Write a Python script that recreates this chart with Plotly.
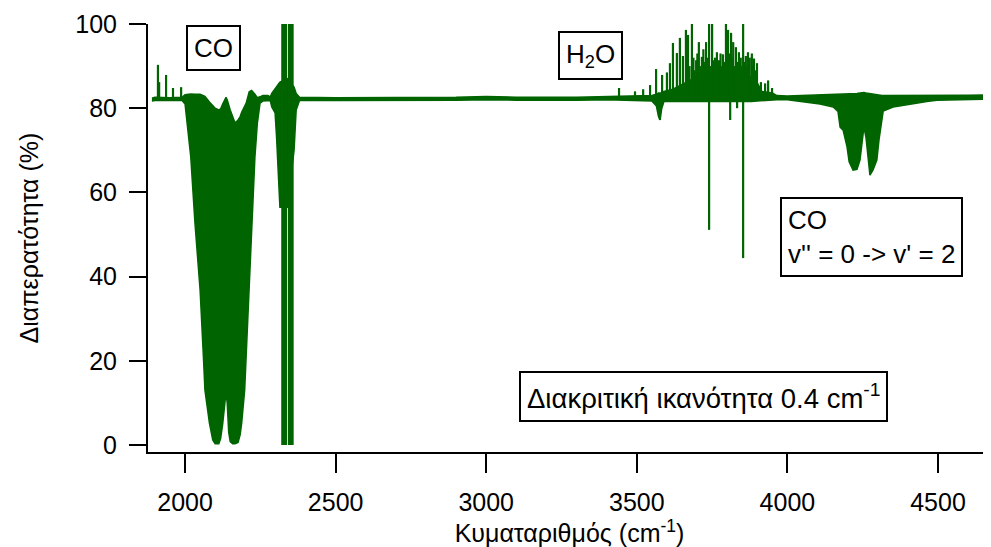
import plotly.graph_objects as go

wn = [1890, 1900, 1950, 1990, 2000, 2019, 2033, 2050, 2061, 2066, 2081, 2092, 2100, 2112,
      2118, 2125, 2133, 2136, 2140, 2145, 2150, 2158, 2166, 2176, 2183, 2188, 2198, 2203,
      2213, 2221, 2232, 2240, 2249, 2258, 2275, 2283, 2288, 2299, 2304, 2310, 2315, 2340,
      2362, 2369, 2380, 2500, 2700, 2900, 3000, 3100, 3300, 3400, 3550, 3565, 3572, 3577,
      3583, 3590, 3620, 3660, 3700, 3800, 3880, 3900, 3915, 3950, 3965, 4000, 4042, 4108,
      4152, 4168, 4175, 4185, 4198, 4205, 4218, 4231, 4241, 4251, 4254, 4261, 4268, 4274,
      4284, 4297, 4304, 4314, 4318, 4351, 4407, 4463, 4496, 4600, 4680]
t_upper = [82.4, 82.6, 82.5, 82.6, 83.2, 83.4, 83.3, 83.3, 83.0, 82.8, 81.5, 80.5, 80.0, 79.6,
           79.8, 81.0, 82.4, 82.6, 82.0, 80.5, 79.6, 78.0, 76.5, 77.2, 78.0, 79.0, 80.5, 81.2,
           83.9, 84.2, 83.3, 82.5, 82.7, 83.0, 83.0, 82.7, 83.5, 84.5, 85.0, 85.5, 86.2, 87.0,
           85.0, 83.5, 82.6, 82.5, 82.5, 82.6, 82.8, 82.6, 82.6, 82.7, 83.0, 83.3, 83.6, 83.6,
           83.6, 84.0, 84.5, 86.0, 87.5, 88.0, 87.5, 86.0, 84.0, 83.6, 83.0, 82.9, 83.0, 83.1,
           83.2, 83.2, 83.3, 83.3, 83.4, 83.4, 83.4, 83.5, 83.6, 83.7, 83.7, 83.6, 83.5, 83.4,
           83.3, 83.2, 83.1, 83.0, 83.0, 83.0, 83.0, 83.0, 83.1, 83.1, 83.2]
t_lower = [81.7, 81.8, 81.8, 81.8, 81.0, 68.4, 52.7, 36.8, 20.9, 13.1, 5.2, 1.2, 0.3, 0.3,
           1.5, 5.0, 10.5, 12.4, 10.0, 3.0, 0.8, 0.3, 0.3, 0.6, 2.5, 5.2, 13.1, 20.9,
           36.8, 52.7, 68.4, 76.4, 81.2, 81.7, 81.7, 81.8, 80.3, 78.9, 73.0, 64.6, 56.5, 56.5,
           70.0, 79.6, 81.8, 81.8, 81.8, 81.9, 82.0, 81.9, 81.9, 82.0, 81.7, 80.5, 78.0, 77.2,
           80.0, 81.6, 81.6, 81.6, 81.5, 81.5, 81.6, 81.7, 81.8, 81.9, 82.0, 82.0, 81.6, 81.0,
           80.3, 79.2, 75.5, 74.8, 70.8, 67.3, 65.3, 65.5, 67.7, 73.2, 75.5, 73.0, 67.7, 64.1,
           65.3, 67.7, 72.4, 77.2, 79.3, 80.3, 81.0, 81.6, 81.9, 82.1, 82.2]

# ---- isolated resolved lines: wavenumber, top and bottom of each line (%) ----
line_wn = [1910, 1914, 1937, 1960, 1987,
           2323, 2327, 2331, 2335, 2345, 2349, 2353, 2357,
           3441, 3494, 3521, 3544, 3564, 3577, 3584, 3600, 3610, 3620, 3633, 3643, 3653,
           3663, 3670, 3675, 3683, 3688, 3692, 3697, 3701, 3706, 3711, 3716, 3721, 3725,
           3730, 3735, 3740, 3745, 3750, 3756, 3760, 3766, 3770, 3773, 3778, 3782, 3786,
           3791, 3796, 3803, 3808, 3810, 3813, 3816, 3820, 3825, 3829, 3833, 3835, 3839,
           3845, 3848, 3853, 3858, 3862, 3866, 3869, 3875, 3882, 3886, 3889, 3894, 3899,
           3912, 3926, 3936, 3949]
line_top = [90.3, 86.2, 87.9, 84.8, 85.0,
            100, 100, 100, 100, 100, 100, 100, 100,
            84.8, 84.0, 84.5, 85.5, 89.3, 83.0, 87.9, 88.5, 90.7, 95.5, 93.1, 96.7, 92.4,
            98.6, 97.4, 90.0, 100, 92.0, 89.0, 91.4, 93.0, 95.7, 90.0, 92.2, 94.0, 91.0,
            95.7, 92.0, 100, 90.0, 100, 91.4, 92.0, 93.3, 90.0, 91.4, 93.0, 90.0, 92.8,
            91.0, 100, 98.6, 93.0, 84.0, 97.9, 92.0, 95.7, 90.0, 94.5, 84.0, 91.0, 93.3,
            92.0, 90.0, 100, 91.0, 92.4, 90.0, 93.3, 92.0, 93.0, 90.0, 91.8, 89.0, 90.7,
            86.2, 85.9, 86.6, 84.8]
line_bottom = [82.0, 82.0, 82.0, 82.0, 82.0,
               0, 0, 0, 0, 0, 0, 0, 0,
               82.0, 82.0, 82.0, 82.0, 82.0, 77.2, 82.0, 82.0, 82.0, 82.0, 82.0, 82.0, 82.0,
               82.0, 82.0, 82.0, 82.0, 82.0, 82.0, 82.0, 82.0, 82.0, 82.0, 82.0, 82.0, 82.0,
               82.0, 82.0, 51.1, 82.0, 82.0, 82.0, 82.0, 82.0, 82.0, 82.0, 82.0, 82.0, 82.0,
               82.0, 82.0, 82.0, 82.0, 77.2, 82.0, 82.0, 82.0, 82.0, 82.0, 80.0, 82.0, 82.0,
               82.0, 82.0, 44.4, 82.0, 82.0, 82.0, 82.0, 82.0, 82.0, 82.0, 82.0, 82.0, 82.0,
               82.0, 82.0, 82.0, 82.0]

x_ticks = [2000, 2500, 3000, 3500, 4000, 4500]
y_ticks = [0, 20, 40, 60, 80, 100]

GREEN = "#006400"
FONT = "Liberation Sans, Arial, sans-serif"

fig = go.Figure()
fig.add_trace(go.Scatter(x=wn, y=t_lower, mode="lines",
                         line=dict(color=GREEN, width=1.5), hoverinfo="skip"))
fig.add_trace(go.Scatter(x=wn, y=t_upper, mode="lines", fill="tonexty",
                         fillcolor=GREEN, line=dict(color=GREEN, width=1.5)))

sx, sy = [], []
for w, top, bot in zip(line_wn, line_top, line_bottom):
    sx += [w, w, None]
    sy += [bot, top, None]
fig.add_trace(go.Scatter(x=sx, y=sy, mode="lines",
                         line=dict(color=GREEN, width=2.2), hoverinfo="skip"))

box = dict(showarrow=False, bordercolor="black", borderwidth=2, borderpad=6,
           bgcolor="white", xref="x", yref="y")
f26 = dict(size=26, color="black", family=FONT)
fig.add_annotation(x=2096, y=94.3, text="CO", font=f26, **box)
fig.add_annotation(x=3345, y=92.6, text="H<sub>2</sub>O", font=f26, **box)
fig.add_annotation(x=4278, y=49.4, text="CO<br>v'' = 0 -> v' = 2", align="left",
                   font=f26, **box)
fig.add_annotation(x=3720, y=11.6, text="Διακριτική ικανότητα 0.4 cm<sup>-1</sup>",
                   font=dict(size=27.5, color="black", family=FONT), **box)

# the page body has an 8 px margin, so the figure is drawn 8 px in and down
fig.update_layout(
    template="none",
    width=983, height=539,
    margin=dict(l=140, r=0, t=16, b=95, autoexpand=False),
    paper_bgcolor="white", plot_bgcolor="white",
    showlegend=False,
    font=dict(family=FONT, size=25, color="black"),
)
fig.update_xaxes(range=[1877, 4676], tickvals=x_ticks, ticks="outside", ticklen=19,
                 tickwidth=2, tickcolor="black", showline=True, linecolor="black",
                 linewidth=2, showgrid=False, zeroline=False, automargin=False,
                 ticklabelstandoff=8,
                 tickfont=dict(size=25), title=dict(text="Κυματαριθμός (cm<sup>-1</sup>)",
                                                    font=dict(size=25), standoff=0))
fig.update_yaxes(range=[-1.66, 100], tickvals=y_ticks, ticks="outside", ticklen=17,
                 tickwidth=2, tickcolor="black", showline=True, linecolor="black",
                 linewidth=2, showgrid=False, zeroline=False, automargin=False,
                 ticklabelstandoff=7,
                 tickfont=dict(size=25), title=dict(text="Διαπερατότητα (%)",
                                                    font=dict(size=25), standoff=30))

fig.write_html("out.html")
